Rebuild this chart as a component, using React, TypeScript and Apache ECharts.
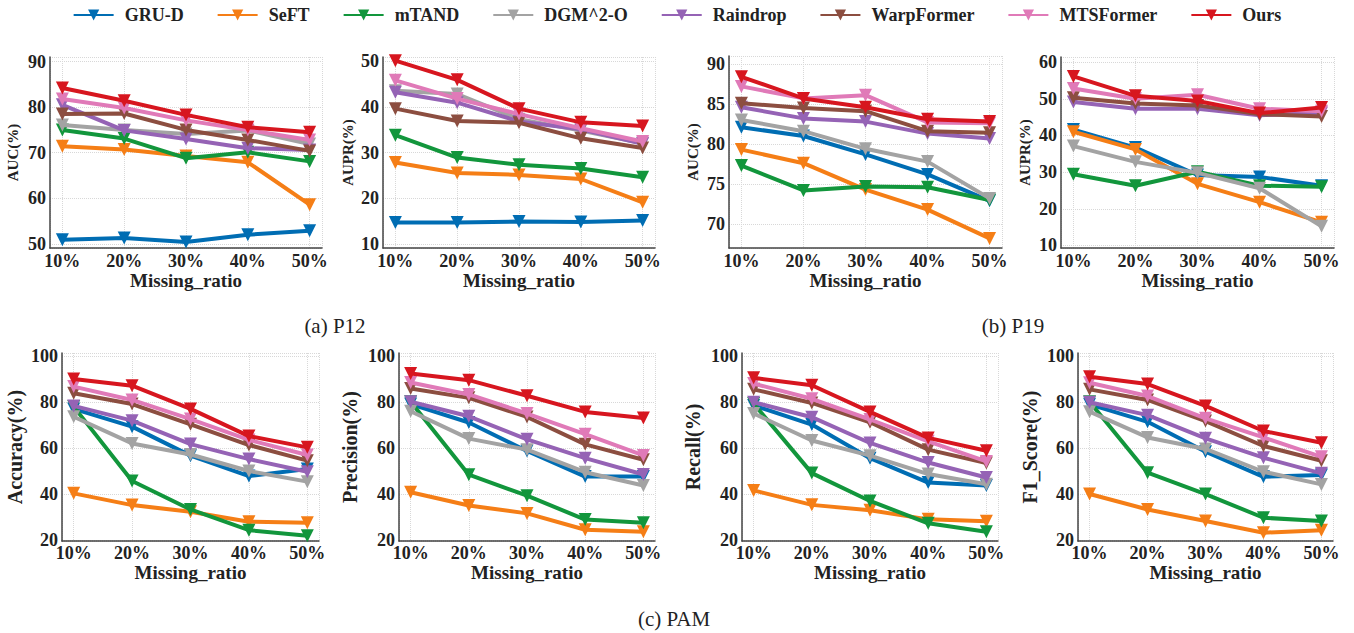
import React, { useEffect, useRef } from "react";
import * as echarts from "echarts";

// x categories (missing ratio, %)
const ratios = [10, 20, 30, 40, 50];
const methods = ["GRU-D", "SeFT", "mTAND", "DGM^2-O", "Raindrop", "WarpFormer", "MTSFormer", "Ours"];
const colors = ["#006db3", "#f57e16", "#12963c", "#a3a3a3", "#9563b5", "#8c4e40", "#e07ab8", "#d7161f"];

// Each panel: rows in the order of `methods`
const p12Auc = [
  [50.9, 51.3, 50.4, 52.0, 52.9],
  [71.4, 70.7, 69.3, 67.9, 58.6],
  [75.0, 73.1, 68.8, 70.1, 68.1],
  [76.1, 75.0, 74.1, 74.9, 71.9],
  [80.5, 74.9, 73.0, 71.0, 70.6],
  [78.5, 78.6, 75.0, 72.8, 70.4],
  [81.8, 79.8, 77.1, 75.0, 72.8],
  [84.2, 81.4, 78.3, 75.6, 74.5],
];
const p12Aupr = [
  [14.7, 14.7, 14.9, 14.8, 15.1],
  [27.8, 25.5, 25.1, 24.2, 19.1],
  [33.8, 28.9, 27.3, 26.5, 24.6],
  [43.5, 42.8, 37.3, 34.8, 32.0],
  [43.2, 40.9, 36.8, 35.1, 31.9],
  [39.6, 36.9, 36.5, 33.1, 31.0],
  [45.8, 41.8, 38.4, 35.3, 32.4],
  [50.1, 45.9, 39.6, 36.6, 35.8],
];
const p19Auc = [
  [82.1, 81.0, 78.7, 76.2, 72.9],
  [79.3, 77.6, 74.3, 71.8, 68.2],
  [77.3, 74.2, 74.7, 74.6, 73.0],
  [83.0, 81.6, 79.4, 77.8, 73.2],
  [84.6, 83.2, 82.8, 81.3, 80.7],
  [85.1, 84.5, 84.1, 81.6, 81.4],
  [87.2, 85.7, 86.1, 82.7, 82.6],
  [88.4, 85.7, 84.6, 83.1, 82.8],
];
const p19Aupr = [
  [41.6, 36.7, 29.2, 28.7, 26.3],
  [41.0, 36.2, 26.8, 21.8, 16.3],
  [29.4, 26.3, 30.1, 26.3, 26.0],
  [37.1, 32.8, 29.8, 25.6, 15.2],
  [49.1, 47.3, 47.3, 45.5, 46.1],
  [50.3, 48.7, 48.2, 45.8, 45.2],
  [52.8, 50.0, 51.1, 47.3, 46.6],
  [56.1, 50.8, 49.4, 46.1, 47.6],
];
const pamAcc = [
  [77.0, 69.3, 56.7, 47.8, 50.9],
  [40.3, 35.2, 32.3, 28.0, 27.5],
  [78.0, 45.7, 33.3, 24.3, 21.9],
  [73.6, 62.0, 57.2, 50.0, 45.4],
  [78.3, 71.9, 61.7, 55.2, 49.7],
  [83.8, 79.1, 70.3, 61.3, 54.5],
  [86.7, 80.9, 72.6, 63.5, 57.0],
  [90.0, 87.1, 77.0, 65.2, 60.3],
];
const pamPrec = [
  [79.1, 71.1, 58.7, 47.6, 47.6],
  [40.8, 35.0, 31.6, 24.5, 23.6],
  [80.1, 48.4, 39.3, 28.9, 27.5],
  [76.0, 64.1, 59.3, 49.5, 43.7],
  [80.1, 73.8, 63.8, 55.6, 48.5],
  [85.9, 81.8, 73.5, 61.6, 54.9],
  [88.5, 83.3, 75.0, 66.0, 56.8],
  [92.4, 89.5, 82.7, 75.7, 73.1],
];
const pamRec = [
  [78.5, 70.2, 55.6, 45.0, 43.7],
  [41.6, 35.3, 33.0, 29.0, 28.2],
  [79.3, 49.1, 37.0, 27.3, 23.6],
  [75.0, 63.3, 56.7, 48.7, 44.3],
  [79.9, 73.4, 62.2, 53.7, 47.2],
  [85.5, 79.6, 71.2, 59.3, 53.5],
  [88.0, 81.4, 72.4, 62.9, 54.2],
  [90.5, 87.3, 75.7, 64.4, 58.8],
];
const pamF1 = [
  [79.0, 71.4, 58.4, 47.5, 48.3],
  [40.0, 33.3, 28.3, 23.2, 24.3],
  [80.1, 49.3, 40.0, 29.7, 28.3],
  [75.8, 64.6, 59.6, 49.7, 44.2],
  [79.9, 74.3, 64.2, 55.8, 49.0],
  [85.5, 80.9, 71.7, 60.9, 54.5],
  [88.4, 82.6, 72.9, 64.6, 56.2],
  [91.0, 87.8, 78.3, 67.4, 62.3],
];

const panelData = [p12Auc, p12Aupr, p19Auc, p19Aupr, pamAcc, pamPrec, pamRec, pamF1];
const yNames = ["AUC(%)", "AUPR(%)", "AUC(%)", "AUPR(%)", "Accuracy(%)", "Precision(%)", "Recall(%)", "F1_Score(%)"];
const yRanges = [
  [49.1, 91.0],
  [9.1, 50.9],
  [67.0, 91.0],
  [9.3, 61.4],
  [19.6, 101.3],
  [19.6, 101.3],
  [19.6, 101.3],
  [19.6, 101.3],
];
const captions = ["(a) P12", "(b) P19", "(c) PAM"];

// layout (px)
const grids = [
  { left: 50, top: 57, width: 272, height: 191 },
  { left: 383, top: 57, width: 272, height: 191 },
  { left: 729, top: 56, width: 273, height: 192 },
  { left: 1061, top: 57, width: 273, height: 191 },
  { left: 62, top: 353, width: 257, height: 188 },
  { left: 399, top: 353, width: 256, height: 188 },
  { left: 742, top: 353, width: 256, height: 188 },
  { left: 1078, top: 353, width: 255, height: 188 },
];
const yNameGaps = [30, 28, 29, 29, 37, 39, 39, 38];
const captionPos = [
  [335, 326],
  [1013, 326],
  [674, 619],
];

const FONT = "'Liberation Serif', 'Times New Roman', serif";

export default function App() {
  const ref = useRef<HTMLDivElement>(null);
  useEffect(() => {
    document.body.style.margin = "0";
    if (!ref.current) return;
    const chart = echarts.init(ref.current, null, { renderer: "svg" });
    const series: any[] = [];
    panelData.forEach((panel, pi) => {
      panel.forEach((vals, mi) => {
        series.push({
          name: methods[mi],
          type: "line",
          xAxisIndex: pi,
          yAxisIndex: pi,
          data: ratios.map((r, i) => [r, vals[i]]),
          symbol: "triangle",
          symbolRotate: 180,
          symbolSize: 13,
          showSymbol: true,
          lineStyle: { width: 4, color: colors[mi] },
          itemStyle: { color: colors[mi] },
          emphasis: { disabled: true },
          z: 2 + mi,
        });
      });
    });
    const bottomRow = (i: number) => i >= 4;
    chart.setOption({
      animation: false,
      textStyle: { fontFamily: FONT },
      legend: {
        data: methods,
        top: 1,
        left: "center",
        itemWidth: 40,
        itemHeight: 14,
        itemGap: 33,
        textStyle: { fontFamily: FONT, fontWeight: "bold", fontSize: 18, color: "#222", padding: [0, 0, 0, 6] },
      },
      grid: grids.map((g) => ({ ...g, containLabel: false })),
      xAxis: grids.map((_, i) => ({
        type: "value",
        gridIndex: i,
        min: 8,
        max: 52,
        name: "Missing_ratio",
        nameLocation: "middle",
        nameGap: bottomRow(i) ? 21 : 22,
        nameTextStyle: { fontFamily: FONT, fontWeight: "bold", fontSize: 19, color: "#222" },
        axisLine: { show: true, lineStyle: { color: "#444", width: 1.5 } },
        axisTick: { show: false },
        axisLabel: {
          fontFamily: FONT,
          fontWeight: "bold",
          fontSize: 18,
          color: "#222",
          margin: bottomRow(i) ? 3 : 4,
          showMinLabel: false,
          showMaxLabel: false,
          formatter: (v: number) => v + "%",
        },
        splitLine: { show: true, lineStyle: { color: "#d8d8d8", type: "dotted", width: 1 } },
      })),
      yAxis: grids.map((_, i) => ({
        type: "value",
        gridIndex: i,
        min: yRanges[i][0],
        max: yRanges[i][1],
        name: yNames[i],
        nameLocation: "middle",
        nameGap: yNameGaps[i],
        nameTextStyle: { fontFamily: FONT, fontWeight: "bold", fontSize: bottomRow(i) ? 20 : 15, color: "#222" },
        axisLine: { show: true, lineStyle: { color: "#444", width: 1.5 } },
        axisTick: { show: false },
        axisLabel: {
          fontFamily: FONT,
          fontWeight: "bold",
          fontSize: 18,
          color: "#222",
          margin: 4,
          showMinLabel: false,
          showMaxLabel: false,
        },
        splitLine: { show: true, lineStyle: { color: "#d8d8d8", type: "dotted", width: 1 } },
      })),
      graphic: captions.map((c, i) => ({
        type: "text",
        x: captionPos[i][0],
        y: captionPos[i][1],
        style: {
          text: c,
          fontFamily: FONT,
          fontSize: 21,
          fill: "#222",
          textAlign: "center",
          textVerticalAlign: "middle",
        },
      })),
      series,
    });
    return () => chart.dispose();
  }, []);
  return <div ref={ref} style={{ width: 1354, height: 633 }} />;
}
